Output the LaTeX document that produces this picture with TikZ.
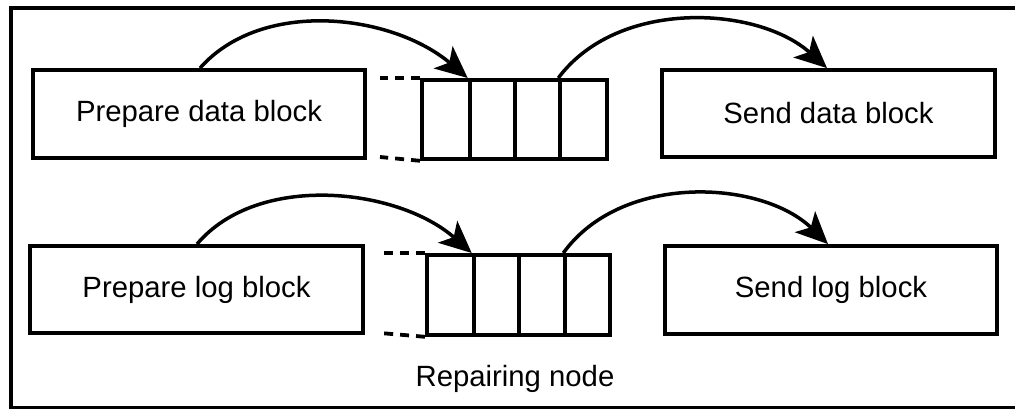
\documentclass[tikz,border=0pt]{standalone}
\usepackage{fontspec}
\setmainfont{Liberation Sans}
\usetikzlibrary{arrows.meta,calc}
\begin{document}
\begin{tikzpicture}[x=1pt,y=-1pt,
  txt/.style={font=\fontsize{29.3}{35}\selectfont},
  box/.style={draw,line width=3.8pt,minimum width=332pt,minimum height=88pt,inner sep=0pt,txt},
  cell/.style={draw,line width=3.8pt,inner sep=0pt,anchor=north west},
  flow/.style={line width=3.5pt,-{Stealth[length=32pt,width=29pt,inset=8pt]}},
  tail/.style={line width=3.8pt,dash pattern=on 9pt off 7pt}]
\useasboundingbox (0,0) rectangle (1015,409);
\node[draw,line width=4pt,minimum width=1016pt,minimum height=399pt,anchor=north west,inner sep=0pt] (frame) at (9,6.5) {};

% top row
\node[box] (pd) at (199,114) {Prepare data block};
\node[box,minimum width=333pt,minimum height=87pt] (sd) at (828.5,113.5) {Send data block};
\node[cell,minimum width=47.7pt,minimum height=79pt] (t1) at (420,78) {};
\node[cell,minimum width=45pt,minimum height=79pt] (t2) at (467.7,78) {};
\node[cell,minimum width=45.6pt,minimum height=79pt] (t3) at (512.7,78) {};
\node[cell,minimum width=46.7pt,minimum height=79pt] (t4) at (558.3,78) {};
\coordinate (tdt) at (380,78);
\coordinate (tdb) at (380,157);
\draw[tail] (t1.north west) -- (tdt);
\draw[tail] (t1.south west) -- (tdb);
\draw[flow] ([xshift=1pt]pd.north) .. controls (262,-2) and (392,14) .. (t2.north west);
\draw[flow] (t4.north west) .. controls (618,-2) and (758,6) .. ([xshift=-1.5pt]sd.north);

% bottom row
\node[box,minimum width=333pt,minimum height=87pt] (pl) at (196.5,289.5) {Prepare log block};
\node[box] (sl) at (831,290) {Send log block};
\node[cell,minimum width=46.7pt,minimum height=80pt] (b1) at (425,253) {};
\node[cell,minimum width=45pt,minimum height=80pt] (b2) at (471.7,253) {};
\node[cell,minimum width=46.6pt,minimum height=80pt] (b3) at (516.7,253) {};
\node[cell,minimum width=44.7pt,minimum height=80pt] (b4) at (563.3,253) {};
\coordinate (bdt) at (384,253);
\coordinate (bdb) at (380,333);
\draw[tail] (b1.north west) -- (bdt);
\draw[tail] (b1.south west) -- (bdb);
\draw[flow] ([xshift=0.5pt]pl.north) .. controls (258,172) and (398,188) .. (b2.north west);
\draw[flow] (b4.north west) .. controls (622,172) and (762,180) .. ([xshift=-3pt]sl.north);

\node[txt] (label) at (515,379) {Repairing node};
\end{tikzpicture}
\end{document}
